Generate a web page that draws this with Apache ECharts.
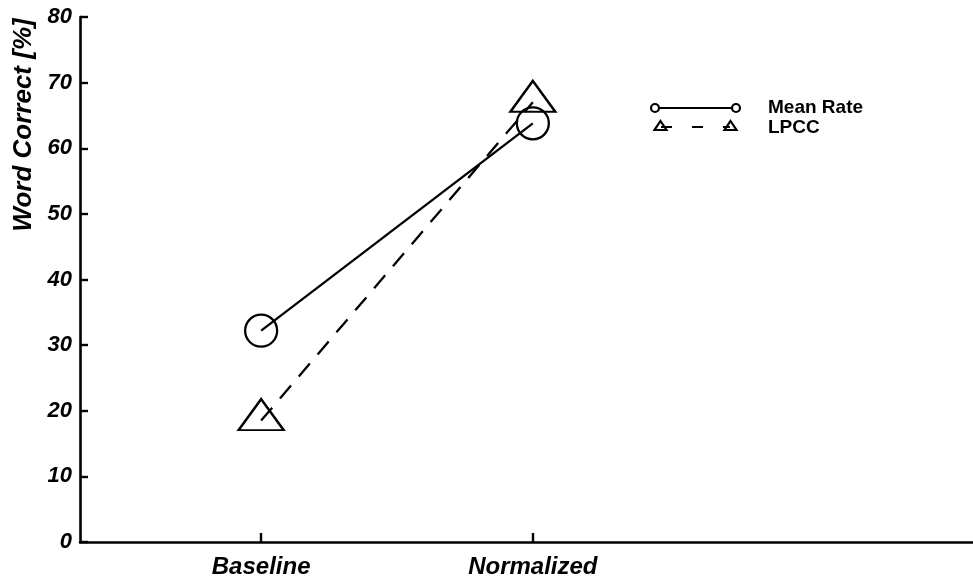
<!DOCTYPE html>
<html><head><meta charset="utf-8">
<script src="https://cdn.jsdelivr.net/npm/echarts@6/dist/echarts.min.js"></script>
<style>html,body{margin:0;padding:0;background:#fff}#c{width:973px;height:580px}</style>
</head><body><div id="c"></div>
<script>
const categories = ['Baseline', 'Normalized'];
const categoryPositions = [1, 2];
const meanRate = [32.2, 63.8];
const lpcc = [18.5, 67.0];
const seriesNames = ['Mean Rate', 'LPCC'];
const yAxisTitle = 'Word Correct [%]';

const FONT = "'Liberation Sans', Arial, sans-serif";
const chart = echarts.init(document.getElementById('c'), null, {renderer: 'canvas'});

const axisText = (size) => ({color: '#000', fontFamily: FONT, fontWeight: 'bold', fontStyle: 'italic', fontSize: size});

const option = {
  animation: false,
  backgroundColor: '#fff',
  grid: {left: 80, right: 0, top: 17, bottom: 38},
  xAxis: {
    type: 'value', min: 1 / 3, max: 3.62,
    axisLine: {show: true, lineStyle: {color: '#000', width: 2.6}},
    axisTick: {show: true, inside: true, length: 9, lineStyle: {color: '#000', width: 2.4}, customValues: categoryPositions},
    axisLabel: Object.assign({margin: 13, customValues: categoryPositions,
      formatter: v => categories[categoryPositions.indexOf(v)] || ''}, axisText(24)),
    splitLine: {show: false}
  },
  yAxis: {
    type: 'value', min: 0, max: 80, interval: 10,
    axisLine: {show: true, lineStyle: {color: '#000', width: 2.6}},
    axisTick: {show: true, inside: true, length: 8, lineStyle: {color: '#000', width: 2.4}},
    axisLabel: Object.assign({margin: 8, padding: [8, 0, 0, 0]}, axisText(22)),
    splitLine: {show: false}
  },
  series: [
    {
      type: 'line', name: seriesNames[0],
      data: categoryPositions.map((x, i) => [x, meanRate[i]]),
      symbol: 'circle', symbolSize: 32,
      lineStyle: {color: '#000', width: 2.3},
      itemStyle: {color: 'rgba(0,0,0,0)', borderColor: '#000', borderWidth: 2.3},
      emphasis: {disabled: true}
    },
    {
      type: 'line', name: seriesNames[1],
      data: categoryPositions.map((x, i) => [x, lpcc[i]]),
      symbol: 'triangle', symbolSize: [45, 31], symbolOffset: [0, -6],
      lineStyle: {color: '#000', width: 2.3, type: [17, 12]},
      itemStyle: {color: 'rgba(0,0,0,0)', borderColor: '#000', borderWidth: 2.3},
      emphasis: {disabled: true}
    }
  ],
  graphic: [
    {type: 'text', x: 24, y: 125, rotation: Math.PI / 2,
      style: {text: yAxisTitle, fill: '#000', font: "italic bold 26px " + FONT, align: 'center', verticalAlign: 'middle'}},
    // legend: Mean Rate
    {type: 'line', shape: {x1: 655, y1: 108, x2: 736, y2: 108}, style: {stroke: '#000', lineWidth: 2.2}},
    {type: 'circle', shape: {cx: 655, cy: 108, r: 4}, style: {stroke: '#000', lineWidth: 2.2, fill: '#fff'}},
    {type: 'circle', shape: {cx: 736, cy: 108, r: 4}, style: {stroke: '#000', lineWidth: 2.2, fill: '#fff'}},
    {type: 'text', x: 768, y: 108, style: {text: seriesNames[0], fill: '#000', font: "bold 19px " + FONT, verticalAlign: 'middle'}},
    // legend: LPCC
    {type: 'line', shape: {x1: 661, y1: 127, x2: 730, y2: 127}, style: {stroke: '#000', lineWidth: 2.2, lineDash: [11, 20]}},
    {type: 'polygon', shape: {points: [[660.5, 121], [666.5, 130], [654.5, 130]]}, style: {stroke: '#000', lineWidth: 2.2, fill: 'rgba(0,0,0,0)'}},
    {type: 'polygon', shape: {points: [[730.5, 121], [736.5, 130], [724.5, 130]]}, style: {stroke: '#000', lineWidth: 2.2, fill: 'rgba(0,0,0,0)'}},
    {type: 'text', x: 768, y: 128, style: {text: seriesNames[1], fill: '#000', font: "bold 19px " + FONT, verticalAlign: 'middle'}}
  ]
};
chart.setOption(option);
</script>
</body></html>
